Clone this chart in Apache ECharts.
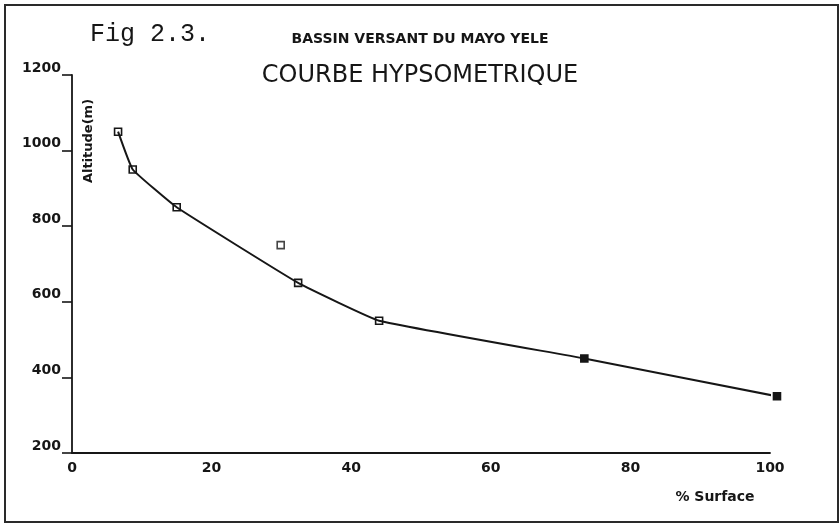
<!DOCTYPE html>
<html>
<head>
<meta charset="utf-8">
<script src="https://cdn.jsdelivr.net/npm/echarts@6/dist/echarts.min.js"></script>
<style>
html,body{margin:0;padding:0;background:#fff;}
#chart{width:840px;height:528px;}
</style>
</head>
<body>
<div id="chart"></div>
<script>
// Data
const surfacePct = [6.6, 8.7, 15, 32.4, 44, 73.4, 101];
const altitude   = [1050, 950, 850, 650, 550, 450, 350];
const isolatedSurface = [29.9];
const isolatedAltitude = [750];
const yTicks = [200, 400, 600, 800, 1000, 1200];
const xTicks = [0, 20, 40, 60, 80, 100];

const figLabel = 'Fig 2.3.';
const subTitle = 'BASSIN VERSANT DU MAYO YELE';
const mainTitle = 'COURBE HYPSOMETRIQUE';
const yName = 'Altitude(m)';
const xName = '% Surface';

const ink = '#161616';
const curveData = surfacePct.map((x, i) => {
  const filled = i >= 5;
  return {
    value: [x, altitude[i]],
    itemStyle: { color: filled ? ink : 'rgba(255,255,255,0)', borderColor: ink, borderWidth: 1.6 }
  };
});
const isoData = isolatedSurface.map((x, i) => [x, isolatedAltitude[i]]);

const chart = echarts.init(document.getElementById('chart'), null, { renderer: 'canvas' });
chart.setOption({
  backgroundColor: '#ffffff',
  animation: false,
  title: [
    { text: figLabel, left: 90, top: 22, padding: 0,
      textStyle: { fontFamily: 'Liberation Mono', fontSize: 25, fontWeight: 'normal', color: ink } },
    { text: subTitle, left: 'center', top: 32, padding: 0,
      textStyle: { fontFamily: 'DejaVu Sans', fontSize: 14, fontWeight: 'bold', color: ink } },
    { text: mainTitle, left: 'center', top: 64, padding: 0,
      textStyle: { fontFamily: 'DejaVu Sans', fontSize: 24, fontWeight: 'normal', color: ink } }
  ],
  grid: { left: 72, right: 70, top: 75, bottom: 75, containLabel: false },
  xAxis: {
    type: 'value', min: xTicks[0], max: xTicks[xTicks.length - 1], interval: 20,
    axisLine: { show: true, onZero: false, lineStyle: { color: ink, width: 1.8 } },
    axisTick: { show: false },
    splitLine: { show: false },
    axisLabel: { margin: 8, color: ink, fontFamily: 'DejaVu Sans', fontWeight: 'bold', fontSize: 14,
      formatter: v => String(v) }
  },
  yAxis: {
    type: 'value', min: yTicks[0], max: yTicks[yTicks.length - 1], interval: 200,
    axisLine: { show: true, onZero: false, lineStyle: { color: ink, width: 1.8 } },
    axisTick: { show: true, inside: false, length: 10, lineStyle: { color: ink, width: 1.6 } },
    splitLine: { show: false },
    axisLabel: { margin: 11, color: ink, fontFamily: 'DejaVu Sans', fontWeight: 'bold', fontSize: 14,
      verticalAlign: 'bottom', formatter: v => String(v) }
  },
  graphic: [
    { type: 'rect', shape: { x: 5, y: 5, width: 833, height: 517 },
      style: { fill: 'none', stroke: '#2a2a2a', lineWidth: 2 }, silent: true },
    { type: 'text', x: 89, y: 141, rotation: Math.PI / 2,
      style: { text: yName, fontFamily: 'DejaVu Sans', fontWeight: 'bold', fontSize: 13,
        fill: ink, align: 'center', verticalAlign: 'middle' } },
    { type: 'text', x: 715, y: 497,
      style: { text: xName, fontFamily: 'DejaVu Sans', fontWeight: 'bold', fontSize: 14,
        fill: ink, align: 'center', verticalAlign: 'middle' } }
  ],
  series: [
    { name: 'Courbe', type: 'line', data: curveData, smooth: 0.1, clip: false,
      symbol: 'rect', symbolSize: 7, showAllSymbol: true,
      lineStyle: { color: ink, width: 2 } },
    { name: 'Point', type: 'scatter', data: isoData, clip: false,
      symbol: 'rect', symbolSize: 7,
      itemStyle: { color: 'rgba(255,255,255,0)', borderColor: ink, borderWidth: 1.6 } }
  ]
});
</script>
</body>
</html>
